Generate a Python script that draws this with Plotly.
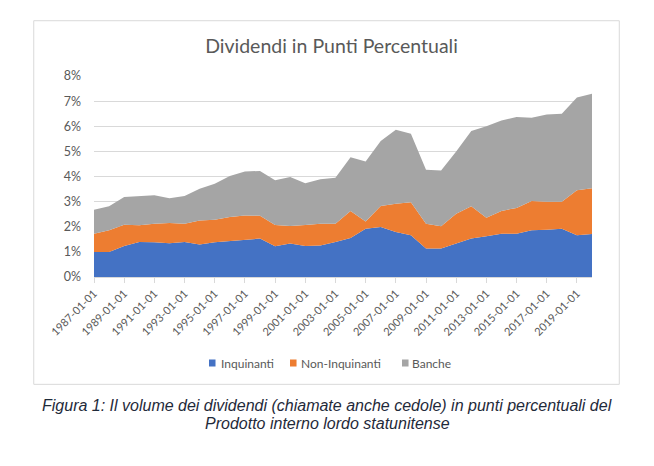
import plotly.graph_objects as go

years = list(range(1987, 2021))
dates = [f"{y}-01-01" for y in years]

# stacked cumulative readings converted to per-series values (percent of GDP)
inquinanti = [1.00, 1.00, 1.23, 1.39, 1.38, 1.34, 1.39, 1.29, 1.38, 1.42,
              1.46, 1.53, 1.22, 1.33, 1.23, 1.25, 1.39, 1.55, 1.92, 1.99,
              1.79, 1.66, 1.13, 1.13, 1.33, 1.53, 1.62, 1.72, 1.72, 1.86,
              1.88, 1.92, 1.66, 1.71]
non_inquinanti_top = [1.72, 1.86, 2.08, 2.06, 2.12, 2.15, 2.12, 2.25, 2.28, 2.39,
                      2.45, 2.44, 2.07, 2.03, 2.07, 2.12, 2.12, 2.63, 2.21, 2.83,
                      2.92, 2.98, 2.12, 2.02, 2.52, 2.82, 2.36, 2.63, 2.75, 3.02,
                      3.00, 3.00, 3.45, 3.53]
totale = [2.68, 2.82, 3.18, 3.22, 3.25, 3.13, 3.22, 3.51, 3.71, 4.02,
          4.20, 4.22, 3.85, 3.98, 3.73, 3.89, 3.95, 4.77, 4.60, 5.41,
          5.86, 5.70, 4.27, 4.24, 5.00, 5.81, 6.00, 6.23, 6.37, 6.34,
          6.47, 6.50, 7.14, 7.29]

non_inquinanti = [round(b - a, 2) for a, b in zip(inquinanti, non_inquinanti_top)]
banche = [round(c - b, 2) for b, c in zip(non_inquinanti_top, totale)]

y_ticks = [0, 1, 2, 3, 4, 5, 6, 7, 8]
y_labels = [f"{v}%" for v in y_ticks]
x_tick_labels = dates[::2][:17]

series_names = ["Inquinanti", "Non-Inquinanti", "Banche"]
series_values = [inquinanti, non_inquinanti, banche]
series_colors = ["#4472C4", "#ED7D31", "#A5A5A5"]

fig = go.Figure()
for name, vals, col in zip(series_names, series_values, series_colors):
    fig.add_trace(go.Scatter(
        x=dates, y=vals, name=name, mode="lines", stackgroup="one",
        line=dict(width=0, color=col), fillcolor=col, showlegend=False,
    ))

GRID = "#d9d9d9"
TXT = "#595959"
FONT = "Lato"

fig.update_layout(
    width=654, height=466,
    margin=dict(l=86, r=70, t=68, b=197),
    paper_bgcolor="white", plot_bgcolor="white",
    font=dict(family=FONT, color=TXT, size=12),
    title=dict(text="Dividendi in Punti Percentuali", x=323.5 / 654, xanchor="center",
               y=1 - 37.7 / 466, yanchor="middle",
               font=dict(family=FONT, size=19.5, color=TXT)),
    showlegend=False,
    xaxis=dict(type="category", range=[0, 33], tickmode="array",
               tickvals=x_tick_labels, ticktext=x_tick_labels, tickangle=-45,
               tickfont=dict(family=FONT, size=11, color=TXT),
               showgrid=False, showline=True, linecolor=GRID,
               ticks="outside", ticklen=5, tickcolor=GRID, zeroline=False),
    yaxis=dict(range=[0, 8], tickmode="array", tickvals=y_ticks, ticktext=y_labels,
               showgrid=True, gridcolor=GRID, gridwidth=1, zeroline=False,
               tickfont=dict(family=FONT, size=12.5, color=TXT),
               ticklabelstandoff=12, showline=False),
)

# chart frame
fig.add_shape(type="rect", xref="paper", yref="paper",
              x0=-0.121, x1=1.0548, y0=-0.534, y1=1.275,
              line=dict(color=GRID, width=1), fillcolor="rgba(0,0,0,0)", layer="below")

# legend (small squares + labels, Excel style)
legend_sq_x = [0.2309, 0.3936, 0.6185]
legend_txt_x = [0.2510, 0.4116, 0.6345]
for name, col, sx, tx in zip(series_names, series_colors, legend_sq_x, legend_txt_x):
    fig.add_shape(type="rect", xref="paper", yref="paper",
                  x0=sx, x1=sx + 0.0131, y0=-0.4453, y1=-0.4104,
                  line=dict(width=0), fillcolor=col)
    fig.add_annotation(xref="paper", yref="paper", x=tx, y=-0.4279,
                       text=name, showarrow=False, xanchor="left", yanchor="middle",
                       font=dict(family=FONT, size=12, color=TXT))

fig.add_annotation(xref="paper", yref="paper", x=0.468, y=-0.637,
                   text="<i>Figura 1: Il volume dei dividendi (chiamate anche cedole) in punti percentuali del</i>",
                   showarrow=False, xanchor="center", yanchor="middle",
                   font=dict(family="Liberation Sans", size=16, color="#1f2a3a"))
fig.add_annotation(xref="paper", yref="paper", x=0.468, y=-0.731,
                   text="<i>Prodotto interno lordo statunitense</i>",
                   showarrow=False, xanchor="center", yanchor="middle",
                   font=dict(family="Liberation Sans", size=16, color="#1f2a3a"))

fig.write_html("out.html")
